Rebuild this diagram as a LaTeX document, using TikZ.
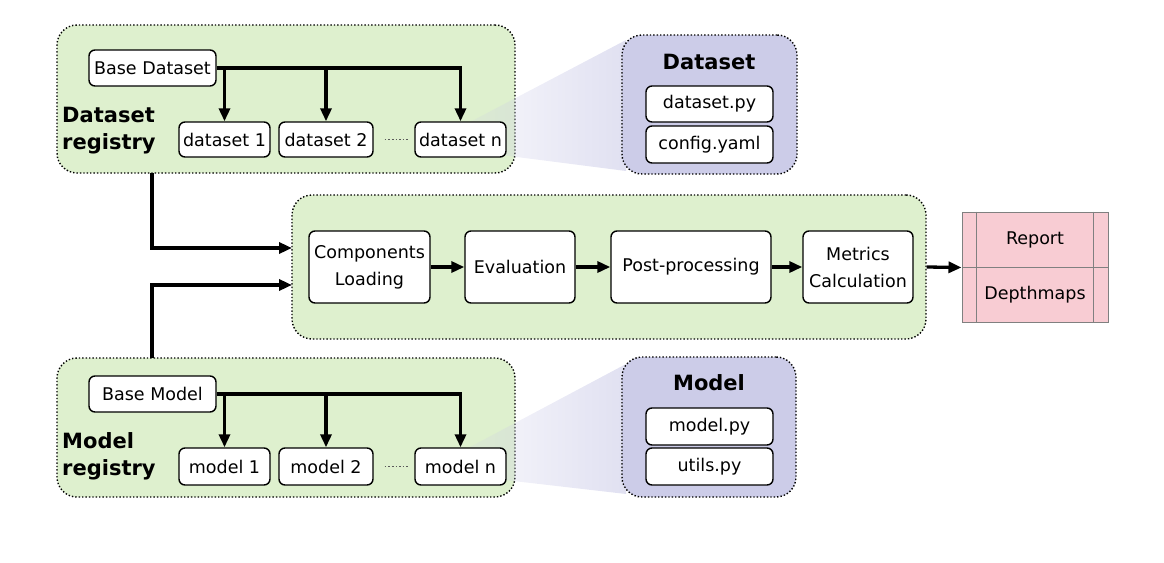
\documentclass[tikz,border=0pt]{standalone}
\usepackage{fontspec}
\setmainfont{DejaVu Sans}
\usetikzlibrary{arrows.meta,fadings,calc}
\definecolor{regfill}{HTML}{DEF0CE}
\definecolor{pfill}{HTML}{CCCCE8}
\definecolor{rfill}{HTML}{F8CCD3}
\definecolor{rline}{HTML}{808080}
\tikzfading[name=zoomfade, left color=transparent!85, right color=transparent!40]
\begin{document}
\begin{tikzpicture}[x=1pt,y=-1pt,
  font=\fontsize{17.5}{27}\selectfont,
  region/.style={draw=black, dotted, line width=1.4pt, fill=regfill, rounded corners=20pt, inner sep=0pt},
  panel/.style={draw=black, dotted, line width=1.4pt, fill=pfill, rounded corners=20pt, inner sep=0pt},
  box/.style={draw=black, fill=white, line width=1.4pt, rounded corners=6pt, inner sep=0pt, align=center},
  outbox/.style={draw=rline, fill=rfill, line width=1pt, inner sep=0pt, minimum width=146pt, minimum height=55pt},
  ttl/.style={font=\fontsize{21}{27}\selectfont\bfseries, align=left, inner sep=0pt},
  link/.style={line width=3.3pt, -{Triangle[length=13pt,width=11pt]}},
  gapdots/.style={dotted, line width=1.6pt, black!65},
  zoomshade/.style={fill=pfill, path fading=zoomfade, draw=none}
]
\useasboundingbox (0,0) rectangle (1164,562);

% registry regions and pipeline
\node[region, minimum width=458pt, minimum height=148pt] (dreg) at (286,99) {};
\node[region, minimum width=458pt, minimum height=139pt] (mreg) at (286,427.5) {};
\node[region, minimum width=634pt, minimum height=144pt] (pipe) at (609,267) {};

% zoom shades
\coordinate (za) at (470,122); \coordinate (zb) at (626,40);
\coordinate (zc) at (626,171); \coordinate (zd) at (470,151);
\fill[zoomshade] (za) -- (zb) -- (zc) -- (zd) -- cycle;
\coordinate (ya) at (470,447); \coordinate (yb) at (626,364);
\coordinate (yc) at (626,494); \coordinate (yd) at (470,476);
\fill[zoomshade] (ya) -- (yb) -- (yc) -- (yd) -- cycle;

% panels
\node[panel, minimum width=175pt, minimum height=139pt] (dpan) at (709.5,104.5) {};
\node[panel, minimum width=174pt, minimum height=140pt] (mpan) at (709,427) {};
\node[ttl] (dttl) at (709,62) {Dataset};
\node[ttl] (mttl) at (709,383) {Model};
\node[box, minimum width=127pt, minimum height=36pt] (dpy) at (709.5,104) {dataset.py};
\node[box, minimum width=127pt, minimum height=37pt] (cfg) at (709.5,144.5) {config.yaml};
\node[box, minimum width=127pt, minimum height=37pt] (mpy) at (709.5,426.5) {model.py};
\node[box, minimum width=127pt, minimum height=37pt] (upy) at (709.5,466.5) {utils.py};

% dataset registry
\node[ttl, anchor=west] (dlab) at (62,131) {Dataset\\registry};
\node[box, minimum width=127pt, minimum height=36pt] (bd) at (152.5,68) {Base Dataset};
\node[box, minimum width=91pt, minimum height=35pt] (d1) at (224.5,139.5) {dataset 1};
\node[box, minimum width=94pt, minimum height=35pt] (d2) at (326,139.5) {dataset 2};
\node[box, minimum width=91pt, minimum height=35pt] (dn) at (460.5,139.5) {dataset n};
\draw[link] (bd.east) -| (dn.north);
\draw[link] (d1.north |- bd.east) -- (d1.north);
\draw[link] (d2.north |- bd.east) -- (d2.north);
\draw[gapdots] ([xshift=11pt]d2.east) -- ([xshift=-5pt]dn.west);

% model registry
\node[ttl, anchor=west] (mlab) at (62,456) {Model\\registry};
\node[box, minimum width=127pt, minimum height=36pt] (bm) at (152.5,394) {Base Model};
\node[box, minimum width=91pt, minimum height=37pt] (m1) at (224.5,466.5) {model 1};
\node[box, minimum width=94pt, minimum height=37pt] (m2) at (326,466.5) {model 2};
\node[box, minimum width=91pt, minimum height=37pt] (mn) at (460.5,466.5) {model n};
\draw[link] (bm.east) -| (mn.north);
\draw[link] (m1.north |- bm.east) -- (m1.north);
\draw[link] (m2.north |- bm.east) -- (m2.north);
\draw[gapdots] ([xshift=11pt]m2.east) -- ([xshift=-5pt]mn.west);

% pipeline steps
\node[box, minimum width=121pt, minimum height=72pt] (cl) at (369.5,267) {Components\\Loading};
\node[box, minimum width=110pt, minimum height=72pt] (ev) at (520,267) {Evaluation};
\node[box, minimum width=160pt, minimum height=72pt] (pp) at (691,267) {Post-processing};
\node[box, minimum width=110pt, minimum height=72pt] (mc) at (858,267) {Metrics\\Calculation};
\draw[link] (cl) -- (ev);
\draw[link] (ev) -- (pp);
\draw[link] (pp) -- (mc);

% registry links into pipeline
\coordinate (dout) at (152,173);
\coordinate (din) at (292,248);
\coordinate (mout) at (152,358);
\coordinate (min) at (292,285);
\draw[link] (dout) |- (din);
\draw[link] (mout) |- (min);

% outputs
\node[outbox] (rep) at (1035,239.5) {Report};
\node[outbox] (dep) at (1035,294.5) {Depthmaps};
\draw[rline, line width=1pt] ([xshift=15pt]rep.north west) -- ([xshift=15pt]dep.south west);
\draw[rline, line width=1pt] ([xshift=-15pt]rep.north east) -- ([xshift=-15pt]dep.south east);
\draw[link] (pipe.east) -- (rep.south west);
\end{tikzpicture}
\end{document}
